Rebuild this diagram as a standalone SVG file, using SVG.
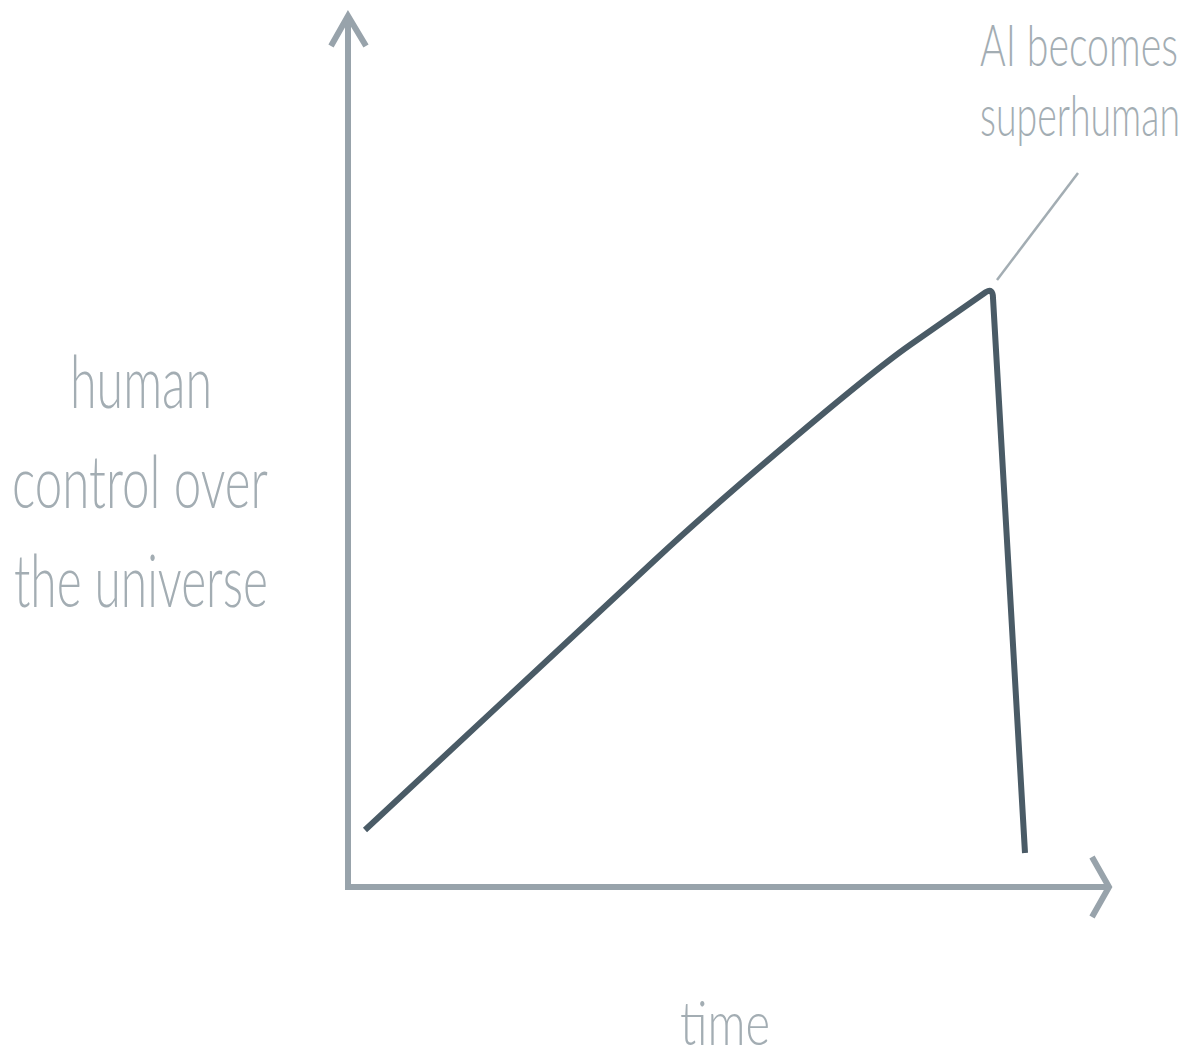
<svg xmlns="http://www.w3.org/2000/svg" width="1191" height="1059" viewBox="0 0 1191 1059">
<style>
.lbl{font-family:Lato,"Open Sans","Liberation Sans",sans-serif;font-weight:300;fill:#a3adb3}
.axis{fill:none;stroke:#98a3ab;stroke-width:6}
.curve{fill:none;stroke:#4a5b66;stroke-width:6;stroke-linejoin:round}
.lead{fill:none;stroke:#a3adb3;stroke-width:2.5}
</style>
<rect width="1191" height="1059" fill="#ffffff"/>
<g id="axes">
<line class="axis" x1="348" y1="16" x2="348" y2="890"/>
<line class="axis" x1="345" y1="887" x2="1108" y2="887"/>
<polyline class="axis" points="331,46 348,16 366,46"/>
<polyline class="axis" points="1092,857 1109,887 1092,917"/>
</g>
<g id="curve">
<path class="curve" d="M365,830 L655,560 C715,504 860,380 910,345 L986,292 Q993,288 993,298 L1025,853"/>
</g>
<g id="connectors">
<line class="lead" x1="1078" y1="173" x2="997" y2="280"/>
</g>
<g id="label-annotation">
<text class="lbl" transform="translate(980,66) scale(0.67,1)" x="0" y="0" font-size="58" textLength="295.5" lengthAdjust="spacingAndGlyphs">AI becomes</text>
<text class="lbl" transform="translate(980,136) scale(0.67,1)" x="0" y="0" font-size="58" textLength="298.5" lengthAdjust="spacingAndGlyphs">superhuman</text>
</g>
<g id="label-y">
<text class="lbl" x="70" y="408" font-size="72" textLength="142" lengthAdjust="spacingAndGlyphs">human</text>
<text class="lbl" x="12" y="508" font-size="72" textLength="256" lengthAdjust="spacingAndGlyphs">control over</text>
<text class="lbl" x="14" y="607" font-size="72" textLength="254" lengthAdjust="spacingAndGlyphs">the universe</text>
</g>
<g id="label-x">
<text class="lbl" x="680" y="1045" font-size="62" textLength="90" lengthAdjust="spacingAndGlyphs">time</text>
</g>
</svg>
